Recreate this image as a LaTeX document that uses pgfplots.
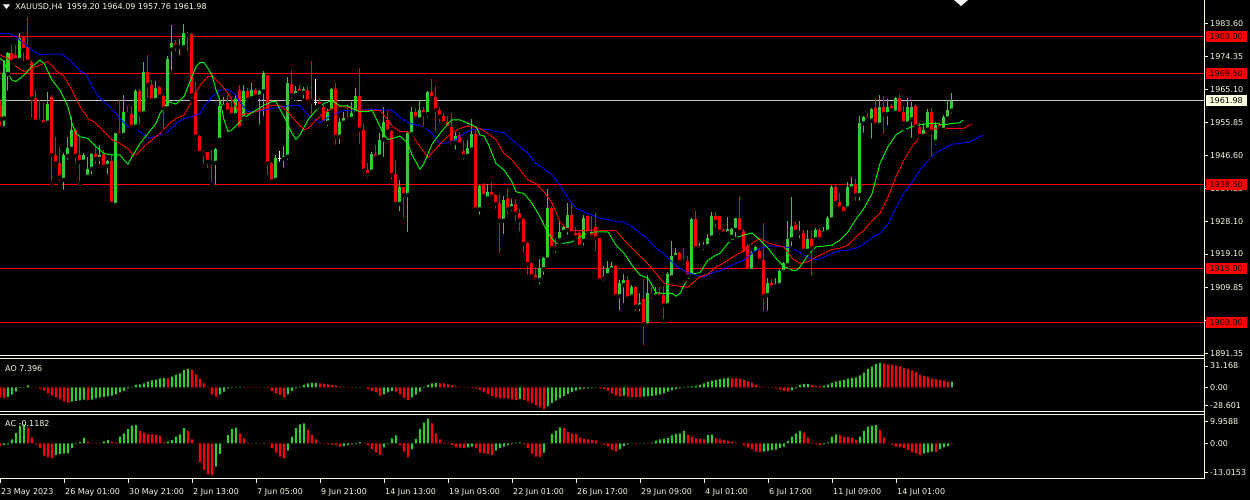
\documentclass[border=0pt]{standalone}
\usepackage{fontspec}
\setmainfont{DejaVu Sans}
\usepackage{pgfplots}
\usepackage{pgfplotstable}
\pgfplotsset{compat=1.18}

\definecolor{fg}{RGB}{250,250,225}
\definecolor{cgreen}{RGB}{50,205,50}
\definecolor{cred}{RGB}{255,0,0}
\definecolor{mablue}{RGB}{0,0,255}
\definecolor{magreen}{RGB}{0,255,0}
\definecolor{lvlgrey}{RGB}{192,192,192}
\definecolor{lastbox}{RGB}{255,255,224}
\newcommand\tf{\fontsize{8}{9}\selectfont}

% XAUUSD H4 candles: index, open, high, low, close
\pgfplotstableread{
i o h l c
1 1957.0 1973.3 1954.2 1969.6
2 1969.4 1975.7 1964.2 1975.2
5 1973.3 1980.8 1972.6 1979.4
12 1955.8 1964.5 1955.6 1961.0
16 1939.8 1947.2 1936.5 1946.8
17 1946.5 1951.9 1944.9 1948.8
18 1948.5 1957.5 1948.2 1953.8
21 1944.9 1947.4 1944.0 1946.7
22 1940.7 1946.3 1939.8 1943.0
23 1942.9 1947.4 1940.7 1947.0
25 1945.7 1949.6 1943.7 1946.8
27 1943.7 1945.4 1940.9 1945.1
29 1932.8 1953.0 1932.1 1952.8
31 1952.4 1963.5 1951.0 1958.8
34 1954.7 1965.1 1953.6 1964.8
36 1958.4 1972.9 1957.3 1970.1
39 1962.1 1967.5 1961.9 1965.4
42 1959.8 1974.4 1958.6 1973.5
43 1976.3 1983.1 1969.8 1978.2
45 1976.9 1979.1 1974.1 1977.2
46 1976.9 1983.4 1976.6 1980.8
54 1944.6 1948.8 1937.9 1948.4
55 1951.0 1962.1 1950.8 1960.5
56 1960.3 1963.1 1959.8 1961.0
59 1957.9 1963.5 1956.7 1962.3
61 1957.0 1966.3 1956.4 1964.8
63 1962.6 1966.8 1962.1 1964.9
65 1963.1 1964.9 1954.7 1964.7
66 1964.5 1970.3 1957.0 1969.6
69 1939.8 1946.8 1939.3 1945.8
71 1945.7 1949.3 1942.6 1946.5
72 1946.3 1968.5 1944.9 1966.8
74 1963.5 1966.1 1962.6 1964.8
76 1964.2 1965.7 1962.0 1965.1
82 1955.8 1959.5 1954.2 1958.9
83 1958.9 1965.6 1957.9 1965.2
85 1951.9 1957.0 1949.3 1956.1
86 1955.8 1958.9 1955.6 1957.2
88 1956.9 1961.7 1955.8 1958.6
89 1958.4 1965.4 1957.9 1963.3
93 1942.1 1947.7 1941.8 1947.0
95 1946.3 1952.8 1945.2 1951.1
96 1951.1 1960.1 1945.6 1956.0
100 1933.1 1939.8 1930.5 1937.7
102 1935.6 1953.3 1924.7 1952.8
103 1952.6 1960.1 1951.4 1958.8
105 1956.7 1962.1 1956.4 1959.3
107 1958.2 1964.8 1956.7 1964.5
114 1950.2 1953.3 1947.7 1952.1
117 1946.5 1951.1 1946.3 1948.6
118 1948.3 1956.7 1948.0 1952.6
120 1931.6 1938.4 1929.5 1938.1
122 1934.6 1938.8 1934.4 1936.5
126 1928.4 1935.3 1924.1 1934.2
128 1931.9 1934.6 1930.5 1933.1
135 1911.8 1917.6 1910.0 1915.1
136 1914.8 1918.3 1912.7 1917.9
137 1917.6 1937.4 1916.3 1932.1
140 1923.0 1928.4 1922.5 1925.3
141 1925.3 1927.2 1924.4 1926.7
142 1925.8 1933.3 1923.9 1930.0
146 1922.8 1930.0 1920.9 1929.1
151 1912.3 1915.7 1910.9 1912.9
152 1913.2 1917.2 1912.9 1915.1
153 1914.8 1916.9 1913.5 1915.7
155 1907.3 1911.8 1902.7 1910.9
156 1910.4 1913.5 1904.8 1911.8
158 1907.2 1910.4 1906.7 1910.0
160 1904.4 1908.1 1902.5 1905.5
162 1899.2 1913.2 1899.0 1908.3
164 1907.3 1910.0 1906.7 1908.1
167 1904.8 1914.1 1904.2 1913.5
168 1912.6 1922.8 1912.0 1918.5
169 1918.3 1920.7 1917.4 1919.5
173 1912.9 1929.1 1911.8 1928.8
175 1920.7 1922.1 1920.4 1921.1
176 1921.1 1922.5 1919.7 1921.6
177 1921.3 1924.7 1920.7 1923.7
178 1923.7 1930.9 1923.2 1929.7
182 1924.9 1929.5 1923.7 1926.0
183 1923.9 1926.3 1922.5 1926.0
184 1925.8 1929.1 1923.2 1929.1
188 1914.4 1920.0 1914.1 1919.5
189 1919.3 1921.3 1918.1 1921.1
192 1907.6 1912.3 1902.7 1910.9
194 1910.1 1912.3 1909.8 1910.7
195 1910.4 1914.8 1910.1 1914.4
196 1914.1 1916.9 1913.5 1916.5
197 1916.0 1928.4 1914.4 1923.2
198 1923.2 1934.9 1920.7 1926.9
200 1924.9 1928.4 1923.0 1925.2
202 1920.0 1925.8 1919.5 1923.2
204 1923.2 1926.5 1922.8 1925.8
206 1924.9 1926.7 1924.4 1925.6
207 1925.3 1929.7 1924.9 1929.1
208 1928.8 1938.4 1928.6 1937.9
212 1931.9 1939.3 1931.4 1937.7
213 1937.4 1940.7 1936.5 1938.7
215 1935.6 1957.7 1933.4 1955.6
216 1955.6 1957.7 1952.4 1957.5
218 1956.4 1959.8 1950.8 1959.5
220 1955.2 1963.5 1954.7 1960.1
222 1958.2 1962.3 1954.5 1960.3
224 1958.6 1963.1 1958.2 1962.6
227 1955.6 1962.6 1955.4 1960.1
228 1956.7 1961.7 1951.0 1960.3
231 1952.1 1955.8 1951.0 1953.9
232 1953.9 1959.5 1953.6 1958.9
234 1950.5 1956.1 1949.1 1955.2
236 1953.8 1957.9 1953.6 1957.3
237 1957.0 1962.1 1956.4 1959.3
238 1959.20 1964.09 1957.76 1961.98
}\upcandles

\pgfplotstableread{
i o h l c
0 1960.7 1962.1 1954.2 1956.8
3 1975.2 1977.5 1972.6 1972.9
4 1974.7 1977.5 1972.4 1973.3
6 1979.7 1980.0 1972.4 1976.1
7 1977.1 1985.4 1971.5 1972.9
8 1972.9 1973.3 1956.6 1962.6
9 1962.6 1964.9 1956.1 1956.1
10 1956.6 1962.1 1955.2 1956.1
11 1956.6 1961.2 1954.9 1955.4
13 1963.1 1963.5 1939.0 1946.8
14 1946.8 1951.9 1944.0 1944.4
15 1944.4 1949.1 1938.9 1940.5
19 1953.8 1954.2 1944.0 1946.7
20 1946.7 1951.9 1938.9 1944.8
24 1947.0 1949.1 1943.7 1945.7
26 1947.0 1948.3 1943.0 1943.5
28 1945.1 1946.8 1932.3 1933.1
30 1953.3 1962.1 1952.1 1952.4
32 1958.8 1960.5 1957.5 1958.2
33 1958.2 1960.5 1954.5 1954.7
35 1964.8 1965.1 1954.7 1958.4
37 1970.1 1974.7 1962.1 1966.3
38 1966.3 1967.7 1961.9 1962.1
40 1965.9 1966.1 1962.3 1963.1
41 1963.3 1963.8 1953.3 1959.8
44 1978.2 1978.9 1975.2 1977.1
47 1980.8 1981.2 1975.2 1980.3
48 1980.6 1981.0 1962.1 1963.5
49 1964.2 1967.3 1950.5 1951.9
50 1952.1 1952.4 1947.2 1947.4
51 1947.7 1948.3 1943.5 1947.2
52 1947.7 1947.7 1942.6 1944.9
53 1944.9 1948.2 1938.7 1944.6
57 1961.2 1963.5 1957.7 1958.9
58 1960.3 1962.6 1957.0 1957.9
60 1964.9 1966.3 1953.9 1954.2
62 1964.8 1965.4 1962.1 1962.3
64 1964.9 1965.4 1962.3 1963.1
67 1969.1 1969.1 1940.7 1944.4
68 1944.4 1944.9 1939.3 1939.3
73 1966.6 1970.5 1962.0 1963.5
75 1965.1 1966.3 1963.5 1964.2
77 1964.9 1966.1 1961.2 1961.7
78 1962.1 1973.0 1956.6 1961.7
80 1961.5 1962.6 1959.3 1960.5
81 1960.3 1960.7 1955.4 1955.6
84 1965.2 1966.8 1949.1 1951.9
87 1957.2 1961.0 1956.1 1956.6
90 1963.3 1971.0 1949.3 1953.9
91 1953.9 1955.6 1940.9 1942.4
92 1942.6 1944.4 1939.8 1941.2
94 1947.0 1949.5 1945.8 1946.1
97 1956.6 1959.3 1953.0 1953.3
98 1953.5 1953.8 1939.3 1941.2
99 1941.6 1945.4 1932.8 1933.1
101 1937.7 1937.9 1928.6 1935.6
104 1958.8 1959.8 1956.7 1957.0
106 1959.3 1960.1 1954.2 1958.2
108 1964.5 1967.9 1962.1 1962.6
109 1962.9 1966.1 1952.8 1959.3
110 1959.3 1960.1 1955.2 1957.5
111 1957.7 1958.4 1955.4 1955.6
112 1956.1 1957.7 1953.9 1954.2
113 1954.5 1958.6 1949.8 1950.2
115 1952.4 1953.3 1949.6 1949.8
116 1948.0 1951.1 1944.9 1946.5
119 1952.6 1953.8 1930.9 1931.6
121 1938.4 1939.0 1935.1 1935.3
123 1936.5 1939.3 1934.2 1935.1
124 1935.6 1936.0 1931.2 1933.1
125 1933.3 1935.9 1918.8 1928.4
127 1934.4 1937.4 1929.5 1931.6
129 1933.1 1934.6 1927.8 1930.5
130 1930.5 1931.6 1924.9 1928.6
131 1928.8 1929.1 1918.8 1921.9
132 1922.1 1922.5 1912.7 1916.3
133 1916.5 1916.7 1912.6 1912.9
134 1913.2 1915.5 1910.7 1912.0
138 1932.1 1932.5 1920.4 1920.7
139 1921.3 1923.5 1918.8 1920.7
143 1930.0 1933.3 1923.7 1924.9
144 1925.0 1926.7 1923.0 1923.7
145 1924.9 1925.8 1920.9 1921.1
147 1929.7 1930.0 1924.7 1924.9
148 1924.9 1929.7 1923.7 1923.9
149 1926.7 1930.5 1919.5 1923.5
150 1923.5 1923.7 1911.4 1911.8
154 1915.7 1916.0 1907.2 1907.3
157 1911.8 1912.9 1906.2 1906.7
159 1910.0 1910.1 1902.7 1904.4
161 1906.4 1912.0 1893.0 1899.5
163 1908.3 1909.8 1906.0 1907.6
165 1908.3 1909.8 1906.7 1907.2
166 1907.6 1910.1 1900.4 1904.8
170 1919.5 1919.7 1916.5 1916.9
171 1917.4 1920.7 1915.5 1916.9
172 1917.2 1918.5 1911.6 1912.9
174 1928.8 1931.2 1920.4 1920.7
179 1929.7 1930.9 1925.8 1928.1
180 1929.7 1929.7 1923.9 1925.3
181 1925.8 1926.3 1923.9 1924.9
185 1929.1 1934.9 1924.9 1925.3
186 1925.6 1926.0 1918.5 1919.1
187 1921.3 1921.9 1914.1 1914.4
190 1920.0 1920.7 1916.9 1917.2
191 1917.4 1927.7 1902.5 1907.3
193 1910.9 1912.0 1909.2 1909.8
199 1927.2 1928.1 1924.9 1925.3
201 1925.0 1925.8 1919.5 1920.0
203 1923.2 1925.8 1912.6 1920.7
205 1925.8 1926.5 1922.8 1923.2
209 1937.9 1938.4 1931.9 1933.4
210 1933.7 1936.2 1931.6 1931.9
211 1932.3 1932.5 1930.3 1930.6
214 1938.4 1940.2 1933.4 1935.6
217 1957.5 1958.6 1956.6 1956.7
219 1959.8 1962.3 1954.9 1955.2
221 1960.1 1963.3 1952.1 1958.2
223 1960.5 1961.0 1958.9 1959.3
225 1962.6 1963.8 1957.7 1958.4
226 1958.9 1960.5 1954.2 1955.6
229 1960.5 1961.0 1954.2 1954.7
230 1954.7 1956.1 1951.9 1952.1
233 1958.9 1959.8 1945.6 1953.3
235 1955.2 1956.1 1953.9 1954.2
}\downcandles

\pgfplotstableread{
i o h l c
70 1945.8 1947.9 1944.3 1945.8
79 1961.5 1968.0 1960.1 1961.5
}\dojicandles

\pgfplotsset{
  panel/.style={scale only axis, width=1204pt, xmin=0, xmax=301,
    axis y line*=right, y axis line style={draw=none},
    tick align=outside, major tick length=4pt,
    tick style={draw=fg, line width=0.8pt},
    yticklabel style={font=\tf, text=fg, anchor=west, inner sep=0pt, xshift=2pt}},
  wick/.style={only marks, mark=none, error bars/y dir=plus, error bars/y explicit,
    error bars/error mark=none, error bars/error bar style={line width=1pt, draw=#1}},
  body/.style={only marks, mark=none, error bars/y dir=plus, error bars/y explicit,
    error bars/error mark=none, error bars/error bar style={line width=3pt, draw=#1}},
  osc/.style={ybar, bar width=2pt, bar shift=0pt, draw=none, fill=#1},
}

\begin{document}
\begin{tikzpicture}
\useasboundingbox (0pt,0pt) rectangle (1250pt,500pt);
\fill[black] (0pt,0pt) rectangle (1250pt,500pt);

% main price panel
\begin{axis}[panel, axis x line=none, xtick=\empty,
  at={(0pt,144.3pt)}, anchor=south west, height=355.7pt,
  ymin=1890.68, ymax=1990.1,
  ytick={1983.60,1974.35,1965.10,1955.85,1946.60,1937.35,1928.10,1919.10,1909.85,1900.60,1891.35},
  yticklabels={1983.60,1974.35,1965.10,1955.85,1946.60,1937.35,1928.10,1919.10,1909.85,1900.60,1891.35}]
\addplot[cred, line width=1pt] coordinates {(0,1980) (301,1980)};
\addplot[cred, line width=1pt] coordinates {(0,1969.5) (301,1969.5)};
\addplot[cred, line width=1pt] coordinates {(0,1938.5) (301,1938.5)};
\addplot[cred, line width=1pt] coordinates {(0,1915) (301,1915)};
\addplot[cred, line width=1pt] coordinates {(0,1900) (301,1900)};
\addplot[lvlgrey, line width=1pt] coordinates {(0,1961.98) (301,1961.98)};

\addplot[wick=cgreen] table[x=i, y=l, y error expr=\thisrow{h}-\thisrow{l}] {\upcandles};
\addplot[body=cgreen] table[x=i, y=o, y error expr=\thisrow{c}-\thisrow{o}] {\upcandles};
\addplot[wick=cred] table[x=i, y=l, y error expr=\thisrow{h}-\thisrow{l}] {\downcandles};
\addplot[body=cred] table[x=i, y=c, y error expr=\thisrow{o}-\thisrow{c}] {\downcandles};
\addplot[wick=white] table[x=i, y=l, y error expr=\thisrow{h}-\thisrow{l}] {\dojicandles};
\addplot[only marks, mark=-, mark size=1.5pt, mark options={draw=white, line width=1pt}]
  table[x=i, y=o] {\dojicandles};

% alligator jaw
\addplot[mablue, line width=0.9pt] coordinates {
(0,1980.8)(2.5,1980.6)(4,1979.85)(6,1978.0)(8,1976.1)(10,1974.7)(12.5,1975.0)(15,1975.0)
(15.8,1974.7)(17.5,1973.3)(20,1970.3)(21.7,1969.1)(23,1965.9)(25,1962.6)(27.5,1960.3)
(30,1957.0)(32,1954.7)(34,1954.2)(36,1952.4)(37,1951.4)(38,1951.7)(40,1952.4)(42,1953.3)
(44,1955.6)(46,1957.0)(48,1957.5)(50,1958.4)(51,1960.3)(53,1963.1)(55,1964.9)(57,1965.1)
(59,1963.5)(60,1961.4)(62,1958.9)(64,1958.9)(66,1959.3)(68,1959.8)(70,1960.1)(72,1960.5)
(74,1960.7)(75,1960.5)(77,1957.9)(79,1956.4)(80,1955.8)(82,1957.3)(84,1958.4)(86,1959.2)
(88,1959.3)(93,1959.5)(98,1959.3)(100,1957.3)(102,1955.8)(104,1955.2)(106,1954.7)
(108,1952.8)(110,1950.0)(112,1950.2)(114,1951.1)(116,1952.8)(118,1953.9)(120,1954.0)
(122,1953.9)(124,1953.3)(126,1953.0)(128,1951.0)(130,1949.1)(132,1947.2)(134,1944.4)
(136,1943.0)(138,1941.2)(140,1938.4)(142,1934.6)(144,1931.9)(146,1930.9)(148,1930.0)
(150,1929.1)(152,1928.8)(154,1928.1)(156,1928.1)(158,1926.7)(160,1925.0)(162,1923.2)
(164,1920.7)(166,1919.1)(168,1916.9)(170,1915.1)(172,1913.9)(174,1913.2)(176,1912.7)
(178,1913.9)(180,1914.4)(182,1915.5)(184,1916.5)(186,1917.4)(188,1919.3)(190,1920.7)
(192,1921.3)(194,1921.3)(196,1921.1)(198,1920.7)(200,1919.5)(202,1918.3)(204,1917.4)
(206,1918.2)(208,1919.3)(210,1920.0)(212,1920.2)(214,1920.7)(216,1921.9)(218,1923.7)
(220,1924.9)(222,1927.5)(224,1932.1)(226,1936.2)(228,1939.0)(230,1942.6)(232,1945.2)
(234,1947.4)(236,1948.6)(238,1949.8)(240,1950.0)(242.5,1950.5)(245.8,1952.4)};
% alligator teeth
\addplot[cred, line width=0.9pt] coordinates {
(0,1974.7)(2,1973.8)(4,1971.5)(6,1970.1)(8,1971.0)(10,1971.9)(12,1972.9)(14,1970.5)
(16,1968.7)(18,1964.9)(20,1960.3)(22,1957.0)(24,1955.6)(26,1953.3)(28,1951.0)(30,1950.0)
(32,1948.6)(33,1947.0)(34,1946.8)(36,1949.1)(38,1951.0)(40,1952.8)(42,1955.2)(44,1957.0)
(46,1957.9)(48,1962.1)(50,1966.3)(52,1968.7)(53,1968.9)(55,1966.8)(57,1964.0)(59,1960.3)
(60,1957.9)(62,1958.4)(64,1958.9)(66,1959.8)(68,1960.7)(70,1960.5)(72,1958.9)(74,1956.1)
(76,1953.9)(77,1954.2)(79,1956.6)(81,1958.4)(83,1959.8)(85,1960.3)(87,1960.1)(89,1959.5)
(91,1959.3)(95,1959.2)(97,1956.6)(98,1954.9)(100,1953.3)(102,1953.3)(103,1952.4)
(105,1949.1)(107,1946.1)(109,1948.6)(111,1951.0)(113,1953.0)(115,1954.2)(117,1954.9)
(120,1954.2)(122,1952.8)(124,1951.0)(126,1947.2)(128,1945.4)(130,1942.6)(132,1939.8)
(134,1938.8)(136,1936.5)(138,1933.3)(140,1928.1)(142,1925.8)(144,1925.6)(148,1925.8)
(154,1925.6)(156,1923.0)(158,1920.7)(160,1918.5)(162,1916.3)(164,1913.7)(166,1910.9)
(168,1910.4)(170,1910.1)(172,1909.8)(173,1910.9)(175,1912.7)(177,1913.5)(179,1915.5)
(180,1916.0)(182,1917.4)(184,1918.8)(186,1920.2)(188,1922.1)(190,1923.5)(192,1922.2)
(194,1921.6)(196,1921.0)(198,1917.9)(200,1916.5)(202,1916.9)(204,1918.3)(206,1919.3)
(208,1920.4)(210,1920.7)(212,1921.6)(214,1923.9)(216,1925.8)(218,1928.4)(220,1930.5)
(222,1935.1)(224,1940.7)(226,1945.4)(228,1949.1)(230,1951.9)(232,1953.3)(234,1954.2)
(236,1954.2)(238,1954.2)(240.8,1954.2)(242.9,1955.4)};
% alligator lips
\addplot[magreen, line width=0.9pt] coordinates {
(0,1973.8)(1,1972.9)(2,1969.6)(3,1967.7)(4,1967.3)(6,1969.1)(8,1971.5)(10,1973.3)
(11,1972.4)(13,1967.7)(15,1964.9)(17,1960.3)(18,1955.6)(19,1952.8)(20,1951.9)(22,1951.4)
(24,1949.1)(26,1947.2)(28,1946.8)(30,1946.8)(31,1945.4)(32,1944.2)(33,1946.3)(35,1950.0)
(37,1952.8)(39,1955.6)(40,1958.4)(42,1961.7)(44,1961.0)(46,1963.1)(48,1968.7)(49,1971.5)
(50,1972.6)(51,1972.6)(52,1971.0)(53,1969.1)(54,1964.9)(55,1962.1)(56,1956.6)(57,1953.3)
(58,1953.8)(60,1956.1)(62,1957.9)(64,1959.3)(66,1960.7)(68,1961.7)(69,1961.7)(71,1957.5)
(73,1952.8)(74,1951.1)(75,1952.4)(77,1956.6)(79,1959.3)(81,1961.2)(83,1962.0)(85,1960.5)
(87,1960.5)(88,1959.8)(90,1958.9)(92,1958.9)(93,1959.3)(95,1954.7)(96,1952.4)(97,1951.1)
(99,1951.7)(100,1952.1)(102,1950.0)(103,1946.8)(105,1942.8)(106,1944.4)(108,1949.8)
(110,1952.8)(112,1955.6)(113,1956.6)(115,1956.6)(117,1955.6)(119,1954.7)(120,1952.4)
(121,1952.1)(122,1950.0)(124,1944.4)(126,1942.6)(128,1939.3)(129,1936.5)(131,1936.0)
(133,1933.3)(135,1929.5)(137,1924.9)(139,1922.1)(141,1922.1)(143,1922.5)(145,1923.9)
(147,1925.0)(149,1925.3)(152,1925.3)(154,1921.6)(156,1919.3)(158,1916.0)(160,1913.2)
(162,1912.3)(163,1910.4)(164,1908.3)(166,1908.1)(168,1908.1)(169,1907.3)(170,1908.1)
(171,1910.4)(173,1913.5)(175,1913.9)(177,1917.4)(179,1918.8)(180,1919.3)(182,1922.1)
(184,1923.7)(186,1924.4)(188,1925.0)(190,1923.0)(192,1920.7)(194,1917.9)(196,1915.5)
(198,1914.6)(199,1914.4)(200,1915.5)(202,1918.8)(204,1921.1)(206,1921.3)(208,1921.6)
(210,1923.0)(212,1925.3)(214,1928.8)(216,1931.9)(218,1935.9)(220,1944.4)(222,1949.1)
(224,1952.4)(226,1953.8)(228,1954.7)(230,1955.2)(232,1955.6)(234,1955.6)(236,1955.2)
(238,1955.6)(240,1955.8)(240.8,1956.6)};

\coordinate (l1980) at (axis cs:301,1980);
\coordinate (l1969) at (axis cs:301,1969.5);
\coordinate (l1938) at (axis cs:301,1938.5);
\coordinate (l1915) at (axis cs:301,1915);
\coordinate (l1900) at (axis cs:301,1900);
\coordinate (llast) at (axis cs:301,1961.98);
\end{axis}

% Awesome Oscillator
\begin{axis}[panel, axis x line=none, xtick=\empty,
  at={(0pt,88.3pt)}, anchor=south west, height=53.4pt,
  ymin=-31.5, ymax=37.4, ytick={-23.7,0,27.5}, yticklabels={-28.601,0.00,31.168}]
\addplot[osc=cgreen] coordinates {
(2,-12.5)(3,-9.5)(4,-5.2)(5,-0.9)(6,-0.4)(7,2.6)(18,-18.5)(19,-17.6)(20,-16.8)(21,-15.9)
(23,-15.9)(24,-14.2)(25,-13.3)(26,-12.5)(27,-11.6)(28,-10.8)(29,-9.0)(30,-6.5)(31,-4.7)
(32,-1.3)(33,0.4)(34,3.0)(35,3.9)(36,5.2)(37,7.3)(38,9.0)(39,9.9)(40,11.6)(41,11.8)
(43,13.8)(44,15.9)(45,18.1)(46,22.4)(47,23.7)(55,-9.0)(56,-5.6)(57,-1.3)(58,0.4)(59,0.6)
(60,0.9)(66,0.3)(72,-9.0)(73,-4.7)(74,-1.3)(75,0.9)(76,3.0)(77,5.2)(78,5.6)(79,5.8)
(89,-0.6)(90,-0.4)(91,-0.2)(96,-9.0)(97,-6.5)(98,-4.7)(103,-12.9)(104,-9.5)(105,-5.6)
(106,-0.9)(107,3.0)(108,5.2)(109,5.6)(130,-15.1)(137,-24.5)(138,-20.6)(139,-17.2)
(140,-14.2)(141,-11.2)(142,-8.6)(143,-6.0)(144,-4.3)(145,-2.6)(146,-1.7)(147,-1.3)
(148,-0.9)(149,-0.4)(156,-10.8)(161,-12.0)(162,-11.6)(163,-11.2)(164,-10.3)(165,-9.0)
(166,-7.7)(167,-5.6)(168,-3.9)(169,-2.2)(170,-1.3)(171,0.4)(172,0.9)(173,1.3)(174,1.7)
(175,3.0)(176,5.2)(177,7.3)(178,8.6)(179,9.5)(180,10.8)(181,11.6)(182,12.0)(198,-3.9)
(199,-1.3)(200,3.0)(201,4.3)(202,4.5)(206,2.2)(207,3.4)(208,5.6)(209,7.3)(210,8.6)
(211,9.5)(212,11.2)(213,12.0)(214,12.9)(215,15.5)(216,18.9)(217,23.7)(218,26.7)
(219,30.1)(220,31.168)(238,7.396)};
\addplot[osc=cred] coordinates {
(0,-12.9)(1,-13.8)(8,0.4)(9,0.1)(10,-1.7)(11,-4.3)(12,-7.7)(13,-10.3)(14,-12.9)(15,-15.5)
(16,-18.1)(17,-19.8)(22,-16.8)(42,11.6)(48,22.4)(49,16.8)(50,10.8)(51,5.2)(52,0.4)
(53,-9.0)(54,-12.0)(61,0.6)(62,0.5)(63,0.4)(64,0.3)(65,0.2)(67,-0.9)(68,-4.7)(69,-7.7)
(70,-9.9)(71,-13.3)(80,5.2)(81,4.7)(82,3.9)(83,3.0)(84,2.2)(85,0.9)(86,0.4)(87,0.2)
(88,-0.9)(92,-2.2)(93,-4.7)(94,-6.5)(95,-10.8)(99,-5.6)(100,-9.0)(101,-13.8)(102,-16.3)
(110,5.2)(111,4.9)(112,3.9)(113,2.6)(114,1.3)(115,0.4)(116,0.2)(117,-0.4)(118,-0.9)
(119,-1.3)(120,-3.4)(121,-6.0)(122,-8.6)(123,-11.2)(124,-12.9)(125,-14.2)(126,-14.4)
(127,-14.6)(128,-15.5)(129,-16.3)(131,-16.3)(132,-18.1)(133,-20.6)(134,-23.2)(135,-25.8)
(136,-28.601)(150,-1.3)(151,-2.2)(152,-4.3)(153,-7.7)(154,-10.3)(155,-11.6)(157,-12.0)
(158,-12.5)(159,-12.7)(160,-12.9)(183,11.6)(184,11.4)(185,10.8)(186,9.5)(187,7.7)
(188,6.0)(189,3.4)(190,1.3)(191,0.4)(192,0.2)(193,-0.4)(194,-1.3)(195,-3.0)(196,-4.7)
(197,-5.6)(203,3.0)(204,1.7)(205,1.5)(221,30.5)(222,29.7)(223,29.2)(224,28.0)(225,27.1)
(226,24.9)(227,23.7)(228,21.5)(229,19.8)(230,16.3)(231,14.6)(232,13.3)(233,11.2)
(234,10.8)(235,9.5)(236,8.5)(237,6.9)};
\end{axis}

% Accelerator Oscillator
\begin{axis}[panel, at={(0pt,21pt)}, anchor=south west, height=64.7pt,
  ymin=-14.46, ymax=11.75, ytick={-11.9,0,8.75}, yticklabels={-13.0153,0.00,9.9588},
  axis x line*=bottom, x axis line style={draw=fg, line width=1pt},
  xtick={0,16,32,48,64,80,96,112,128,144,160,176,192,208,224},
  xticklabels={23 May 2023,26 May 01:00,30 May 21:00,2 Jun 13:00,7 Jun 05:00,9 Jun 21:00,
    14 Jun 13:00,19 Jun 05:00,22 Jun 01:00,26 Jun 17:00,29 Jun 09:00,4 Jul 01:00,
    6 Jul 17:00,11 Jul 09:00,14 Jul 01:00},
  xticklabel style={font=\tf, text=fg, anchor=west, inner sep=0pt, xshift=1pt, yshift=-9pt}]
\addplot[osc=cgreen] coordinates {
(1,-0.7)(2,-0.4)(3,1.6)(4,4.1)(5,7.2)(6,7.7)(14,-4.7)(15,-4.3)(16,-4.2)(17,-4.1)(18,-2.0)
(19,-0.3)(20,0.5)(21,2.2)(26,0.8)(27,1.35)(30,2.7)(31,4.05)(32,5.7)(33,7.2)(34,7.4)
(42,0.7)(43,1.35)(44,2.7)(45,3.6)(46,6.1)(54,-9.45)(55,-4.3)(56,0.1)(57,3.4)(58,5.8)
(59,6.3)(64,0.14)(66,0.14)(72,-3.0)(73,2.7)(74,6.1)(75,7.7)(76,8.1)(86,-1.1)(87,-0.7)
(88,-0.4)(89,-0.3)(90,0.5)(96,-1.6)(97,-0.3)(98,2.0)(99,3.2)(103,-2.4)(104,1.8)(105,5.8)
(106,8.4)(107,9.9588)(117,-1.6)(118,-1.35)(124,-3.0)(125,-2.0)(126,-1.35)(127,-0.7)
(128,-0.3)(129,0.3)(130,0.4)(136,-3.8)(137,0.05)(138,3.8)(139,5.1)(140,6.5)(155,-2.4)
(156,-1.1)(157,-0.4)(158,0.07)(160,-0.1)(161,0.14)(163,0.3)(164,1.1)(165,1.6)(166,1.9)
(167,2.2)(168,3.2)(169,3.8)(170,4.05)(171,5.0)(177,3.4)(178,3.5)(191,-3.4)(192,-3.1)
(193,-2.7)(194,-2.6)(195,-2.0)(196,-1.35)(197,0.95)(198,2.7)(199,4.05)(200,5.0)
(206,-0.4)(207,0.4)(208,2.7)(209,3.6)(215,2.7)(216,5.0)(217,6.75)(218,7.2)(219,7.4)
(231,-4.05)(232,-3.8)(233,-3.4)(235,-2.4)(236,-1.6)(237,-1.1)(238,-0.1182)};
\addplot[osc=cred] coordinates {
(0,-1.1)(7,6.1)(8,2.4)(9,-0.4)(10,-2.0)(11,-5.0)(12,-5.7)(13,-6.1)(22,0.7)(23,0.14)
(24,0.1)(25,0.07)(28,0.7)(29,0.4)(35,5.0)(36,4.3)(37,3.8)(38,3.6)(39,3.5)(40,3.0)
(41,0.4)(47,5.0)(48,1.6)(49,-0.14)(50,-7.7)(51,-10.8)(52,-12.6)(53,-13.0153)(60,4.05)
(61,2.0)(62,0.3)(63,0.1)(65,0.07)(67,0.05)(68,-2.0)(69,-3.8)(70,-5.4)(71,-6.1)(77,5.4)
(78,3.4)(79,1.6)(80,0.3)(81,-0.14)(82,-0.3)(83,-0.4)(84,-0.7)(85,-1.35)(91,0.05)
(92,-0.7)(93,-2.3)(94,-3.8)(95,-4.7)(100,-0.7)(101,-3.4)(102,-5.7)(108,8.1)(109,4.05)
(110,1.6)(111,0.3)(112,0.14)(113,-0.7)(114,-1.6)(115,-1.75)(116,-2.0)(119,-2.0)
(120,-3.8)(121,-4.05)(122,-4.3)(123,-4.7)(131,-0.4)(132,-2.0)(133,-4.3)(134,-5.4)
(135,-5.5)(141,6.1)(142,4.7)(143,4.05)(144,3.8)(145,2.4)(146,1.9)(147,1.6)(148,1.35)
(149,1.2)(150,0.14)(151,-0.5)(152,-1.1)(153,-2.7)(154,-3.4)(159,-0.3)(162,0.07)
(172,3.4)(173,2.7)(174,2.0)(175,1.75)(176,1.6)(179,2.0)(180,1.75)(181,1.35)(182,0.95)
(183,0.7)(184,0.3)(185,-0.05)(186,-0.7)(187,-1.75)(188,-2.4)(189,-3.4)(190,-3.6)
(201,4.3)(202,2.3)(203,0.3)(204,-0.4)(205,-0.7)(210,3.4)(211,2.7)(212,2.6)(213,2.3)
(214,1.35)(220,5.4)(221,2.3)(222,0.05)(223,-0.5)(224,-1.35)(225,-1.5)(226,-2.0)
(227,-2.7)(228,-3.6)(229,-4.05)(230,-4.7)(234,-3.5)};
\end{axis}

% frame lines
\draw[fg, line width=1pt] (1204pt,21pt) -- (1204pt,500pt);
\draw[fg, line width=1pt] (0pt,21pt) -- (1204pt,21pt);
\draw[fg, line width=1pt] (0pt,144.3pt) -- (1204pt,144.3pt);
\draw[fg, line width=1pt] (0pt,141.7pt) -- (1204pt,141.7pt);
\draw[fg, line width=1pt] (0pt,88.3pt) -- (1204pt,88.3pt);
\draw[fg, line width=1pt] (0pt,85.7pt) -- (1204pt,85.7pt);

% level labels
\tikzset{lvl/.style={anchor=west, fill=cred, text=black, font=\tf, inner sep=0pt,
  minimum width=41pt, minimum height=11pt}}
\node[lvl] at ([xshift=1.5pt]l1980) {1980.00};
\node[lvl] at ([xshift=1.5pt]l1969) {1969.50};
\node[lvl] at ([xshift=1.5pt]l1938) {1938.50};
\node[lvl] at ([xshift=1.5pt]l1915) {1915.00};
\node[lvl] at ([xshift=1.5pt]l1900) {1900.00};
\node[lvl, fill=lastbox] at ([xshift=1.5pt]llast) {1961.98};

% titles
\fill[white] (3pt,495.5pt) -- (10pt,495.5pt) -- (6.5pt,491pt) -- cycle;
\node[anchor=west, inner sep=0pt, font=\tf, text=fg] at (15pt,492.7pt)
  {XAUUSD,H4\hspace{4pt}1959.20 1964.09 1957.76 1961.98};
\fill[white] (954pt,500pt) -- (968pt,500pt) -- (961pt,494pt) -- cycle;
\node[anchor=west, inner sep=0pt, font=\tf, text=fg] at (5pt,131.7pt) {AO 7.396};
\node[anchor=west, inner sep=0pt, font=\tf, text=fg] at (5pt,76.3pt) {AC -0.1182};
\end{tikzpicture}
\end{document}
